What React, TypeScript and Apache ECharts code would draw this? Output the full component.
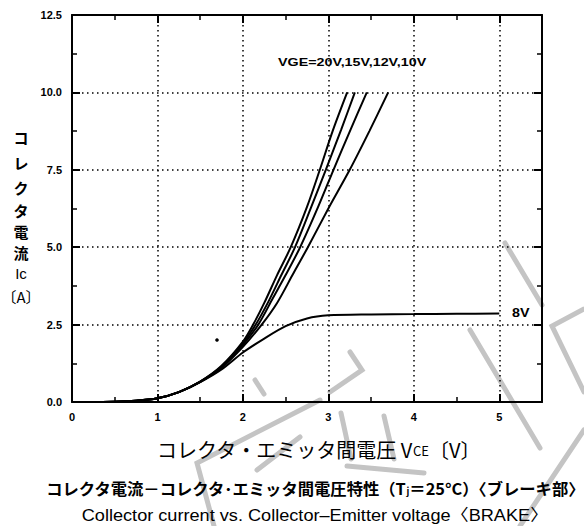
import React, { useEffect, useRef } from "react";
import * as echarts from "echarts";

// ---- data ----
const xTicks = [0, 1, 2, 3, 4, 5];
const yTicks = [0, 2.5, 5, 7.5, 10, 12.5];

const vge20V = [0, 0.5, 0.75, 1.0, 1.25, 1.5, 1.75, 2.0, 2.12, 2.25, 2.4, 2.56, 2.75, 2.9, 3.05, 3.22];
const vge20I = [0, 0.01, 0.04, 0.12, 0.32, 0.66, 1.17, 1.95, 2.5, 3.2, 4.1, 5.0, 6.3, 7.5, 8.75, 10.0];

const vge15V = [0, 0.5, 0.75, 1.0, 1.25, 1.5, 1.75, 2.0, 2.15, 2.3, 2.45, 2.61, 2.8, 2.97, 3.15, 3.31];
const vge15I = [0, 0.01, 0.04, 0.12, 0.32, 0.66, 1.15, 1.9, 2.5, 3.25, 4.1, 5.0, 6.3, 7.5, 8.8, 10.0];

const vge12V = [0, 0.5, 0.75, 1.0, 1.25, 1.5, 1.75, 2.0, 2.18, 2.35, 2.5, 2.67, 2.88, 3.06, 3.26, 3.45];
const vge12I = [0, 0.01, 0.04, 0.12, 0.32, 0.65, 1.13, 1.85, 2.5, 3.35, 4.1, 5.0, 6.3, 7.5, 8.8, 10.0];

const vge10V = [0, 0.5, 0.75, 1.0, 1.25, 1.5, 1.75, 2.0, 2.22, 2.4, 2.58, 2.76, 3.0, 3.25, 3.48, 3.7];
const vge10I = [0, 0.01, 0.04, 0.12, 0.32, 0.65, 1.1, 1.78, 2.5, 3.2, 4.1, 5.0, 6.25, 7.5, 8.75, 10.0];

const vge8V = [0, 0.5, 0.75, 1.0, 1.25, 1.5, 1.75, 2.0, 2.25, 2.5, 2.75, 3.0, 3.5, 4.0, 4.5, 5.0];
const vge8I = [0, 0.01, 0.04, 0.12, 0.32, 0.64, 1.05, 1.6, 2.05, 2.45, 2.7, 2.8, 2.83, 2.84, 2.85, 2.86];

const seriesNames = ["VGE=20V", "VGE=15V", "VGE=12V", "VGE=10V", "VGE=8V"];
const curveLabel = "VGE=20V,15V,12V,10V";
const curve8Label = "8V";
const yNameChars = ["コ", "レ", "ク", "タ", "電", "流", "Ic", "〔A〕"];

const pairs = (xs: number[], ys: number[]) => xs.map((x, i) => [x, ys[i]]);

const CJK = '"Noto Sans CJK JP", sans-serif';
const LAT = '"Liberation Sans", Arial, "Noto Sans CJK JP", sans-serif';

export default function App() {
  const ref = useRef<HTMLDivElement>(null);
  useEffect(() => {
    if (!ref.current) return;
    const chart = echarts.init(ref.current, undefined, { renderer: "svg" });

    const axisCommon = {
      type: "value" as const,
      axisLine: { show: true, onZero: false, lineStyle: { color: "#000", width: 2 } },
      axisTick: { show: true, inside: true, length: 8, lineStyle: { color: "#000", width: 2 } },
      minorTick: { show: true, splitNumber: 2, length: 5, lineStyle: { color: "#000", width: 1.5 } },
    };
    const labelStyle = { color: "#000", fontFamily: LAT, fontWeight: "bold" as const, fontSize: 11 };
    const dotted = { show: true, lineStyle: { color: "#000", width: 1.5, type: [1.5, 3.5] as any } };

    const curves = [
      pairs(vge20V, vge20I),
      pairs(vge15V, vge15I),
      pairs(vge12V, vge12I),
      pairs(vge10V, vge10I),
      pairs(vge8V, vge8I),
    ];

    const yNameY = [137, 162, 187, 210, 231, 252, 273, 296];

    const wm = (points: number[][]) => ({
      type: "polyline",
      silent: true,
      z: -1,
      shape: { points },
      style: { stroke: "#c4c4c4", lineWidth: 5, fill: "none", lineCap: "round" },
    });

    chart.setOption({
      animation: false,
      backgroundColor: "#fff",
      grid: { left: 72, top: 15, width: 470, height: 387, show: false },
      xAxis: [
        {
          ...axisCommon,
          position: "bottom",
          min: xTicks[0],
          max: 5.5,
          interval: 1,
          axisLabel: { ...labelStyle, margin: 9, showMaxLabel: false, formatter: (v: number) => (v > 5 ? "" : String(v)) },
          splitLine: dotted,
        },
        {
          ...axisCommon,
          position: "top",
          min: xTicks[0],
          max: 5.5,
          interval: 1,
          axisLabel: { show: false },
          splitLine: { show: false },
        },
      ],
      yAxis: [
        {
          ...axisCommon,
          position: "left",
          min: yTicks[0],
          max: yTicks[yTicks.length - 1],
          interval: 2.5,
          axisLabel: { ...labelStyle, margin: 10, formatter: (v: number) => v.toFixed(1) },
          splitLine: dotted,
        },
        {
          ...axisCommon,
          position: "right",
          min: yTicks[0],
          max: yTicks[yTicks.length - 1],
          interval: 2.5,
          axisLabel: { show: false },
          splitLine: { show: false },
        },
      ],
      series: curves.map((d, i) => ({
        name: seriesNames[i],
        type: "line",
        data: d,
        smooth: 0.3,
        showSymbol: false,
        symbol: "none",
        lineStyle: { color: "#000", width: 2 },
        z: 5,
      })),
      graphic: [
        // watermark strokes
        wm([[505, 243], [542, 305]]),
        wm([[470, 330], [540, 448]]),
        wm([[584, 309], [552, 326], [584, 392]]),
        wm([[584, 430], [520, 526]]),
        wm([[320, 400], [197, 463], [214, 526]]),
        wm([[255, 380], [264, 394]]),
        wm([[350, 352], [362, 370], [330, 392]]),
        wm([[341, 413], [351, 459]]),
        wm([[384, 416], [394, 459]]),
        wm([[347, 466], [424, 473]]),
        wm([[257, 470], [300, 437]]),
        // speck
        { type: "circle", shape: { cx: 217, cy: 340, r: 1.8 }, style: { fill: "#000" } },
        // curve labels
        {
          type: "text",
          x: 278,
          y: 62,
          scaleX: 1.3,
          style: { text: curveLabel, fill: "#000", font: `bold 11px ${LAT}`, textVerticalAlign: "middle" },
        },
        {
          type: "text",
          x: 512,
          y: 313,
          scaleX: 1.1,
          style: { text: curve8Label, fill: "#000", font: `bold 13px ${LAT}`, textVerticalAlign: "middle" },
        },
        // y axis name (vertical)
        ...yNameChars.map((c, i) => ({
          type: "text",
          x: 21,
          y: yNameY[i],
          style: {
            text: c,
            fill: "#000",
            font: i >= 6 ? `15px ${i === 6 ? LAT : CJK}` : `bold 15px ${CJK}`,
            textAlign: "center",
            textVerticalAlign: "middle",
          },
        })),
        // x axis name
        {
          type: "text",
          x: 157,
          y: 449,
          style: {
            text: "{a|コレクタ・エミッタ間電圧 V}{b|CE}{a|〔V〕}",
            fill: "#000",
            textVerticalAlign: "middle",
            rich: {
              a: { fontFamily: CJK, fontSize: 20, fill: "#000", verticalAlign: "bottom" },
              b: { fontFamily: CJK, fontSize: 13, fill: "#000", verticalAlign: "bottom", padding: [0, 0, 2, 0] },
            },
          },
        },
        // caption lines
        {
          type: "text",
          x: 315,
          y: 488,
          scaleX: 1.02,
          style: {
            text: "{a|コレクタ電流－コレクタ･エミッタ間電圧特性（T}{s|j}{a|＝25°C）〈ブレーキ部〉}",
            fill: "#000",
            textAlign: "center",
            textVerticalAlign: "middle",
            rich: {
              a: { fontFamily: CJK, fontWeight: "bold", fontSize: 16, fill: "#000", verticalAlign: "bottom" },
              s: { fontFamily: CJK, fontWeight: "bold", fontSize: 9, fill: "#000", verticalAlign: "bottom" },
            },
          },
        },
        {
          type: "text",
          x: 315,
          y: 515,
          scaleX: 1.1,
          style: {
            text: "Collector current vs. Collector–Emitter voltage〈BRAKE〉",
            fill: "#000",
            font: `16.5px ${LAT}`,
            textAlign: "center",
            textVerticalAlign: "middle",
          },
        },
      ],
    });
    return () => chart.dispose();
  }, []);

  return (
    <div
      ref={ref}
      style={{ position: "fixed", left: 0, top: 0, width: 584, height: 526, background: "#fff" }}
    />
  );
}
